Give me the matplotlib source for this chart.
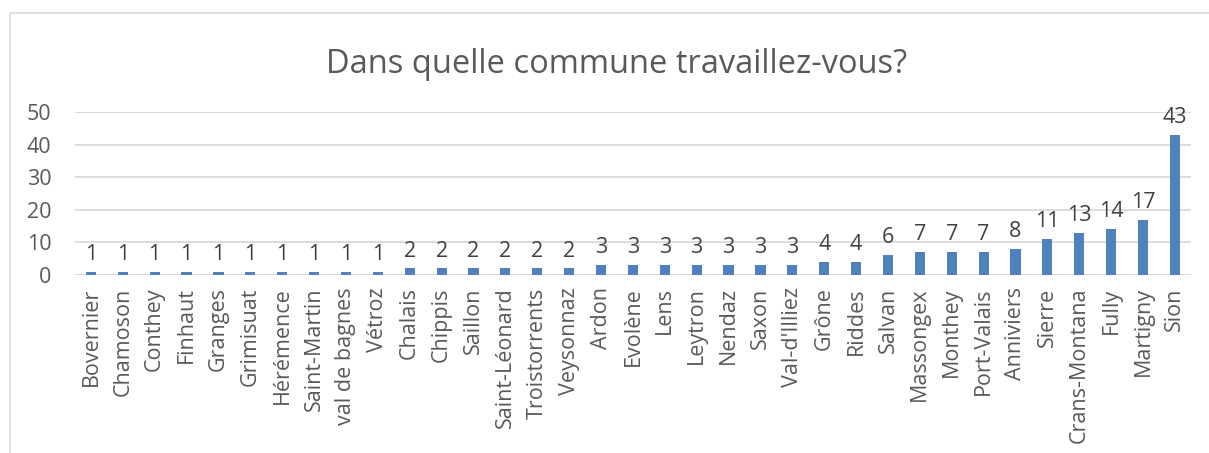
import matplotlib.pyplot as plt
from matplotlib.patches import Rectangle

# Données
communes = ['Bovernier', 'Chamoson', 'Conthey', 'Finhaut', 'Granges', 'Grimisuat',
            'Hérémence', 'Saint-Martin', 'val de bagnes', 'Vétroz', 'Chalais', 'Chippis',
            'Saillon', 'Saint-Léonard', 'Troistorrents', 'Veysonnaz', 'Ardon', 'Evolène',
            'Lens', 'Leytron', 'Nendaz', 'Saxon', "Val-d'Illiez", 'Grône', 'Riddes',
            'Salvan', 'Massongex', 'Monthey', 'Port-Valais', 'Anniviers', 'Sierre',
            'Crans-Montana', 'Fully', 'Martigny', 'Sion']
reponses = [1, 1, 1, 1, 1, 1, 1, 1, 1, 1, 2, 2, 2, 2, 2, 2, 3, 3, 3, 3, 3, 3, 3,
            4, 4, 6, 7, 7, 7, 8, 11, 13, 14, 17, 43]
yticks = [0, 10, 20, 30, 40, 50]

plt.rcParams['font.family'] = ['Open Sans', 'DejaVu Sans']
gris = '#595959'

fig = plt.figure(figsize=(12.09, 4.53), dpi=100)
ax = fig.add_axes([0.062, 0.393, 0.923, 0.360])

# cadre du graphique
fig.patches.append(Rectangle((10 / 1209, -0.1), 1.2, 1.1 - 13 / 453, transform=fig.transFigure,
                             fill=False, edgecolor='#D9D9D9', linewidth=1.2))

x = range(len(communes))
bars = ax.bar(x, reponses, width=0.32, color='#4F81BD', zorder=3)
for b, v in zip(bars, reponses):
    ax.annotate(str(v), (b.get_x() + b.get_width() / 2, v), xytext=(0, 5),
                textcoords='offset points', ha='center', va='bottom',
                fontsize=15.5, color='#404040', annotation_clip=False)

ax.set_xlim(-0.5, len(communes) - 0.5)
ax.set_ylim(0, 50)
ax.set_yticks(yticks)
ax.set_xticks(list(x))
ax.set_xticklabels(communes, rotation=90, fontsize=15.5, color=gris)
ax.tick_params(axis='y', labelsize=15.5, labelcolor=gris, length=0, pad=17)
ax.tick_params(axis='x', length=0, pad=9)
ax.grid(axis='y', color='#D9D9D9', linewidth=1.3, zorder=0)
for s in ax.spines.values():
    s.set_visible(False)

fig.suptitle('Dans quelle commune travaillez-vous?', fontsize=23.5, color=gris, y=0.895, x=0.51)

plt.savefig('out.png', dpi=100)
